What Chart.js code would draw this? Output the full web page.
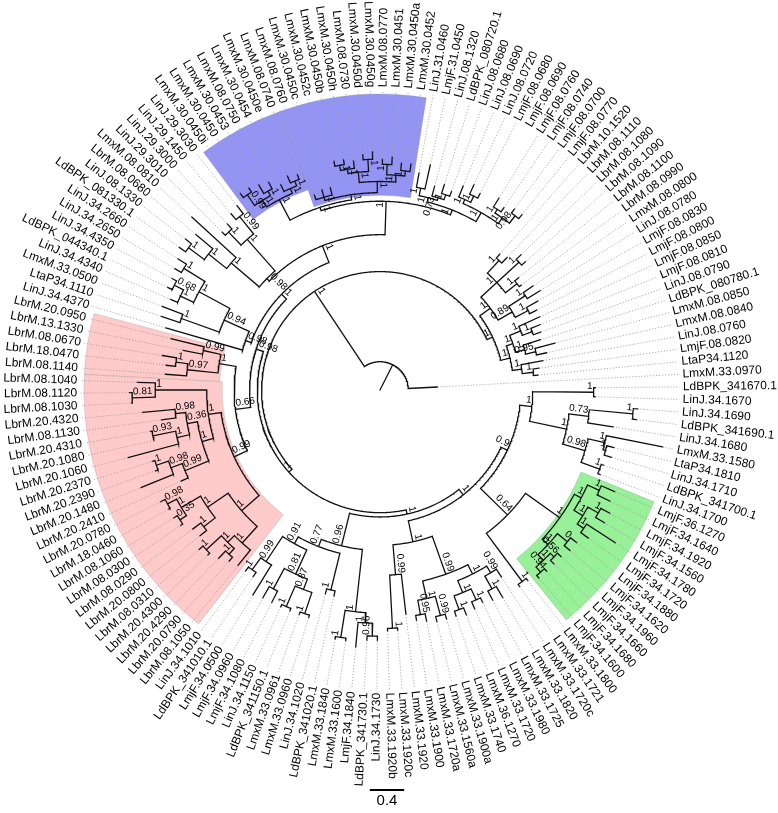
<!DOCTYPE html>
<html>
<head>
<meta charset="utf-8">
<script src="https://cdn.jsdelivr.net/npm/chart.js@4.4.0/dist/chart.umd.min.js"></script>
<style>
  html, body { margin: 0; padding: 0; background: #fff; }
  canvas { display: block; }
</style>
</head>
<body>
<canvas id="tree" width="778" height="813"></canvas>
<script>
// leaf labels, counter-clockwise starting at the right side
const leafNames = [
  "LmxM.33.0970","LtaP34.1120","LmjF.08.0820","LinJ.08.0760","LmxM.08.0840","LmxM.08.0850","LdBPK_080780.1","LinJ.08.0790","LmjF.08.0810","LmjF.08.0850",
  "LmjF.08.0800","LmjF.08.0830","LinJ.08.0780","LmxM.08.0800","LbrM.08.0990","LbrM.08.1100","LbrM.08.1090","LbrM.08.1080","LbrM.08.1110","LbrM.10.1520",
  "LmjF.08.0770","LmjF.08.0700","LmjF.08.0740","LmjF.08.0760","LmjF.08.0690","LmjF.08.0680","LinJ.08.0720","LinJ.08.0690","LinJ.08.0680","LdBPK_080720.1",
  "LinJ.08.1320","LmjF.31.0450","LinJ.31.0460","LmxM.30.0452","LmxM.30.0450a","LmxM.30.0451","LmxM.08.0770","LmxM.30.0450g","LmxM.30.0450d","LmxM.08.0730",
  "LmxM.30.0450h","LmxM.30.0450b","LmxM.30.0452c","LmxM.30.0450c","LmxM.08.0760","LmxM.08.0740","LmxM.30.0450e","LmxM.30.0454","LmxM.08.0750","LmxM.30.0453",
  "LmxM.30.0450","LmxM.30.0450i","LinJ.29.3030","LinJ.29.1450","LinJ.29.3000","LinJ.29.3010","LmxM.08.0810","LbrM.08.0680","LinJ.08.1330","LdBPK_081330.1",
  "LinJ.34.2660","LinJ.34.2650","LinJ.34.4350","LdBPK_044340.1","LinJ.34.4340","LmxM.33.0500","LtaP34.1110","LinJ.34.4370","LbrM.20.0950","LbrM.13.1330",
  "LbrM.08.0670","LbrM.18.0470","LbrM.08.1140","LbrM.08.1040","LbrM.08.1120","LbrM.08.1030","LbrM.20.4320","LbrM.08.1130","LbrM.20.4310","LbrM.20.1080",
  "LbrM.20.1060","LbrM.20.2370","LbrM.20.2390","LbrM.20.1480","LbrM.20.2410","LbrM.20.0780","LbrM.18.0460","LbrM.08.1060","LbrM.08.0300","LbrM.08.0290",
  "LbrM.20.0800","LbrM.08.0310","LbrM.20.4300","LbrM.20.4290","LbrM.20.0790","LbrM.08.1050","LinJ.34.1010","LdBPK_341010.1","LmjF.34.0500","LmjF.34.0960",
  "LmjF.34.1080","LinJ.34.1150","LdBPK_341150.1","LmxM.33.0961","LmxM.33.0960","LinJ.34.1020","LdBPK_341020.1","LmxM.33.1840","LmxM.33.1600","LmjF.34.1840",
  "LdBPK_341730.1","LinJ.34.1730","LmxM.33.1920b","LmxM.33.1920c","LmxM.33.1920","LmxM.33.1900","LmxM.33.1720a","LmxM.33.1560a","LmxM.33.1900a","LmxM.33.1740",
  "LmxM.36.1270","LmxM.33.1720","LmxM.33.1980","LmxM.33.1725","LmxM.33.1820","LmxM.33.1720c","LmxM.33.1721","LmxM.33.1800","LmjF.34.1600","LmjF.34.1680",
  "LmjF.34.1660","LmjF.34.1960","LmjF.34.1620","LmjF.34.1880","LmjF.34.1720","LmjF.34.1780","LmjF.34.1560","LmjF.34.1920","LmjF.34.1640","LmjF.36.1270",
  "LinJ.34.1700","LdBPK_341700.1","LinJ.34.1710","LtaP34.1810","LmxM.33.1580","LinJ.34.1680","LdBPK_341690.1","LinJ.34.1690","LinJ.34.1670","LdBPK_341670.1"
];

// clades: leaf = index:depth, node = (children)support:depth  (depth = distance from root, subst./site)
const cladeRa = "(((2:1.85,3:1.87)1:1.80,4:1.93)1:1.67,(((5:1.99,6:2.11)0.95:1.87,7:1.96)1:1.75,((8:1.99,9:2.02)1:1.90,10:2.05)1:1.78)1:1.64)1:1.56";
const cladeRb = "(((11:2.05,12:2.11)1:1.96,(13:2.20,14:2.16)1:2.02)0.89:1.79,((15:2.05,16:2.08)1:2.02,(17:2.26,18:2.28)1:2.20,(19:2.14,20:2.11)1:2.05)1:1.85)1:1.60";
const cladeRup = "(((32:2.69,33:2.57)1:2.40,((29:2.46,30:2.51)1:2.40,31:2.46)0.73:2.34)1:2.31,(((26:2.57,27:2.63)1:2.51,28:2.57)1:2.43,((23:2.57,24:2.63)1:2.51,(21:2.63,22:2.63)0.98:2.57)1:2.46)1:2.38)1:2.26";
const cladeBlueR = "((43:2.43,44:2.43,45:2.40)1:2.34,(((34:2.66,35:2.66)1:2.57,(36:2.72,37:2.69)1:2.63)1:2.51,((38:2.78,39:2.75)1:2.69,(40:2.69,(41:2.72,42:2.72)1:2.66)1:2.60)1:2.55)1:2.43)1:2.30";
const cladeBlueL = "(((46:2.69,47:2.72)1:2.63,48:2.66)1:2.57,((49:2.75,50:2.78)1:2.66,(51:2.81,52:2.81)0.99:2.75)1:2.60)1:2.51";
const cladeL1 = "(((53:2.72,54:2.69)0.99:2.60,(55:2.63,56:2.60)1:2.55)1:2.34,(57:2.98,(58:2.81,(59:2.87,60:2.87)1:2.78)1:2.55)1:2.28)0.98:1.85";
const cladeL2 = "((((61:2.81,62:2.78)1:2.69,((63:2.75,64:2.75)0.68:2.69,65:2.66)1:2.57)1:2.40,(66:2.72,67:2.69)1:2.46)0.94:1.99,68:2.60)0.98:1.67";
const cladePinkTop = "((69:2.51,70:2.34)0.99:2.11,((71:2.57,72:2.51)1:2.40,73:2.51)0.97:2.26)1:1.90";
const cladePinkA = "((74:2.83,(75:2.92,76:2.90)0.81:2.89)1:2.62,(((77:2.78,78:2.57)0.98:2.40,((79:2.72,80:2.70)0.93:2.70,81:3.04)1:2.43)0.36:2.28,(((82:2.78,83:2.78)1:2.75,84:3.01)0.98:2.60,85:2.55)0.99:2.46)1:2.16)1:2.02";
const cladePinkB = "((((86:2.87,87:2.83)0.98:2.81,(88:2.83,89:2.81)0.35:2.78)1:2.69,(90:2.72,91:2.70)1:2.60)1:2.43,(((92:2.81,93:2.78)1:2.75,(94:2.72,95:2.66)1:2.60)1:2.51,96:2.63)1:2.40)1:2.14";
const cladeBL = "((((97:2.63,98:2.63)1:2.57,99:2.81)0.99:2.40,((100:2.78,101:2.78)1:2.63,((102:2.78,103:2.78)1:2.75,(104:2.78,105:2.78)1:2.75)0.87:2.49)0.81:2.36)0.91:2.05,(106:2.46,107:2.46)1:2.40)0.77:1.96";
const cladeBL2 = "((108:2.95,109:2.95)1:2.92,(110:3.01,(111:2.92,112:2.92)0.96:2.87)1:2.72)1:2.60";
const cladeBottom = "(((113:2.81,114:2.81)1:2.78,115:2.63)0.99:2.16,(((116:2.72,117:2.75)0.95:2.66,(118:2.78,119:2.78)0.99:2.72)1:2.49,(((120:2.78,121:2.81)1:2.72,(122:2.78,123:2.75)1:2.69)1:2.55,((124:2.78,125:2.81)1:2.66,126:2.60)0.99:2.49)1:2.40)0.99:2.28)1:1.81";
const cladeGreen = "((((129:2.87,130:2.87)0.94:2.83,(131:2.87,132:2.87)0.56:2.81)1:2.75,(133:2.90,134:2.90)0:2.81)1:2.66,((139:2.98,140:2.98)1:2.81,((137:3.04,138:3.04)1:2.92,(135:2.98,136:3.27)1:2.87)1:2.78)1:2.66)1:2.57";
const cladeRight = "((((141:2.75,142:2.75)1:2.72,((143:2.81,144:2.81)1:2.72,145:3.36)1:2.69)0.98:2.49,((147:3.01,148:3.01)1:2.96,146:2.75)0.73:2.45)1:2.22,(149:2.51,150:2.51)1:2.49)1:1.78";

const cladeC =
  "(((((" + cladeRup + ",(" + cladeBlueR + "," + cladeBlueL + ")1:2.24)1:2.20," + cladeL1 + ")1:1.81," + cladeL2 + ")1:1.60," +
  "(" + cladePinkTop + ",(" + cladePinkA + "," + cladePinkB + ")0.99:1.87)0.66:1.70)0.98:1.52," +
  "((" + cladeBL + "," + cladeBL2 + ")0.96:1.87,(" + cladeBottom + ",(((127:2.81,128:2.81)1:2.78," + cladeGreen + ")0.64:2.08," + cladeRight + ")0.9:1.64)1:1.56)1:1.48)1:1.43";

const treeText = "((1:0.67,((" + cladeRa + "," + cladeRb + ")1:1.45," + cladeC + ")1:1.38)1:0.33):0";

// highlighted clades (first leaf, last leaf, depth of inner edge)
const hlFirstLeaf = [34, 46, 69, 74, 129];
const hlLastLeaf = [45, 52, 73, 96, 140];
const hlInnerDepth = [2.27, 2.48, 1.87, 1.84, 2.53];
const hlColors = ['#9494f4', '#9494f4', '#ffcaca', '#ffcaca', '#98f098'];

const scaleBarLength = 0.4;

// ---- layout ----
const cx = 380, cy = 390, pxPerUnit = 85.8, W = 778, H = 813;
const startAngle = 3;
const step = 360 / leafNames.length;
const hlOuter = 3.45, tipEnd = 3.49, labelDepth = 3.53;

function parseTree(text) {
  const s = text.replace(/\s+/g, '');
  let i = 0;
  const num = () => { let t = ''; while (i < s.length && /[0-9.]/.test(s[i])) t += s[i++]; return t; };
  function node() {
    if (s[i] === '(') {
      i++;
      const kids = [node()];
      while (s[i] === ',') { i++; kids.push(node()); }
      i++; // ')'
      const sup = num();
      let d = 0;
      if (s[i] === ':') { i++; d = parseFloat(num()); }
      return { kids: kids, support: sup, depth: d };
    }
    const id = parseInt(num(), 10);
    let d = 0;
    if (s[i] === ':') { i++; d = parseFloat(num()); }
    return { leaf: id, depth: d };
  }
  return node();
}

const leafAngle = i => startAngle + (i - 1) * step;
function setAngles(n) {
  if (n.kids) {
    n.kids.forEach(setAngles);
    n.angle = n.kids.reduce((a, k) => a + k.angle, 0) / n.kids.length;
  } else n.angle = leafAngle(n.leaf);
}

function polar(r, a) {
  const t = a * Math.PI / 180;
  return { x: r * Math.cos(t), y: r * Math.sin(t) };
}

const root = parseTree(treeText);
setAngles(root);

const gap = { x: NaN, y: NaN };
const branchPts = [], dotPts = [], innerNodes = [];
function walk(n) {
  if (!n.kids) {
    dotPts.push(polar(n.depth, n.angle), polar(tipEnd, n.angle), gap);
    return;
  }
  innerNodes.push(n);
  const angs = n.kids.map(k => k.angle);
  const a0 = Math.min(...angs), a1 = Math.max(...angs);
  if (a1 > a0) {
    for (let a = a0; a < a1; a += 0.5) branchPts.push(polar(n.depth, a));
    branchPts.push(polar(n.depth, a1), gap);
  }
  n.kids.forEach(k => {
    branchPts.push(polar(n.depth, k.angle), polar(k.depth, k.angle), gap);
    walk(k);
  });
}
walk(root);

const barY = (cy - 790) / pxPerUnit, barX = (387 - cx) / pxPerUnit;
const scaleBarPts = [{ x: barX - scaleBarLength / 2, y: barY }, { x: barX + scaleBarLength / 2, y: barY }];

const treePlugin = {
  id: 'treeDecor',
  beforeDatasetsDraw(chart) {
    const c = chart.ctx, xs = chart.scales.x, ys = chart.scales.y;
    const ox = xs.getPixelForValue(0), oy = ys.getPixelForValue(0);
    const k = xs.getPixelForValue(1) - ox;
    c.save();
    hlFirstLeaf.forEach((f, i) => {
      const a0 = (leafAngle(f) - step / 2) * Math.PI / 180;
      const a1 = (leafAngle(hlLastLeaf[i]) + step / 2) * Math.PI / 180;
      c.beginPath();
      c.arc(ox, oy, hlOuter * k, -a1, -a0, false);
      c.arc(ox, oy, hlInnerDepth[i] * k, -a0, -a1, true);
      c.closePath();
      c.fillStyle = hlColors[i];
      c.fill();
      c.strokeStyle = 'rgba(120,120,120,0.3)';
      c.lineWidth = 0.8;
      c.stroke();
    });
    c.restore();
  },
  afterDatasetsDraw(chart) {
    const c = chart.ctx, xs = chart.scales.x, ys = chart.scales.y;
    const ox = xs.getPixelForValue(0), oy = ys.getPixelForValue(0);
    const k = xs.getPixelForValue(1) - ox;
    c.save();
    c.fillStyle = '#000';
    // leaf labels
    c.font = "12px 'Liberation Sans', Arial, sans-serif";
    c.textBaseline = 'middle';
    leafNames.forEach((name, i) => {
      const a = leafAngle(i + 1);
      const norm = ((a % 360) + 360) % 360;
      c.save();
      c.translate(ox, oy);
      c.rotate(-a * Math.PI / 180);
      if (norm > 90 && norm < 270) {
        c.rotate(Math.PI);
        c.textAlign = 'right';
        c.fillText(name, -labelDepth * k, 0);
      } else {
        c.textAlign = 'left';
        c.fillText(name, labelDepth * k, 0);
      }
      c.restore();
    });
    // support values
    c.font = "10px 'Liberation Sans', Arial, sans-serif";
    c.textBaseline = 'bottom';
    innerNodes.forEach(n => {
      if (!n.support || n.depth < 1.0) return;
      const norm = ((n.angle % 360) + 360) % 360;
      const r = n.depth * k;
      c.save();
      c.translate(ox, oy);
      c.rotate(-n.angle * Math.PI / 180);
      if (norm > 90 && norm < 270) {
        c.rotate(Math.PI);
        c.textAlign = 'left';
        c.fillText(n.support, -r + 1, -1);
      } else {
        c.textAlign = 'right';
        c.fillText(n.support, r - 1, -1);
      }
      c.restore();
    });
    // scale bar caption
    c.font = "15px 'Liberation Sans', Arial, sans-serif";
    c.textAlign = 'center';
    c.textBaseline = 'top';
    c.fillText(String(scaleBarLength), xs.getPixelForValue(barX), ys.getPixelForValue(barY) + 3);
    c.restore();
  }
};

new Chart(document.getElementById('tree').getContext('2d'), {
  type: 'scatter',
  data: {
    datasets: [
      { data: dotPts, showLine: true, borderColor: '#999', borderWidth: 0.8, borderDash: [1.2, 1.8], pointRadius: 0, clip: false },
      { data: branchPts, showLine: true, borderColor: '#111', borderWidth: 1.3, borderCapStyle: 'square', pointRadius: 0, clip: false },
      { data: scaleBarPts, showLine: true, borderColor: '#000', borderWidth: 2, pointRadius: 0, clip: false }
    ]
  },
  options: {
    responsive: false,
    animation: false,
    events: [],
    layout: { padding: 0 },
    plugins: { legend: { display: false }, tooltip: { enabled: false } },
    scales: {
      x: { type: 'linear', display: false, min: -cx / pxPerUnit, max: (W - cx) / pxPerUnit },
      y: { type: 'linear', display: false, min: -(H - cy) / pxPerUnit, max: cy / pxPerUnit }
    }
  },
  plugins: [treePlugin]
});
</script>
</body>
</html>
